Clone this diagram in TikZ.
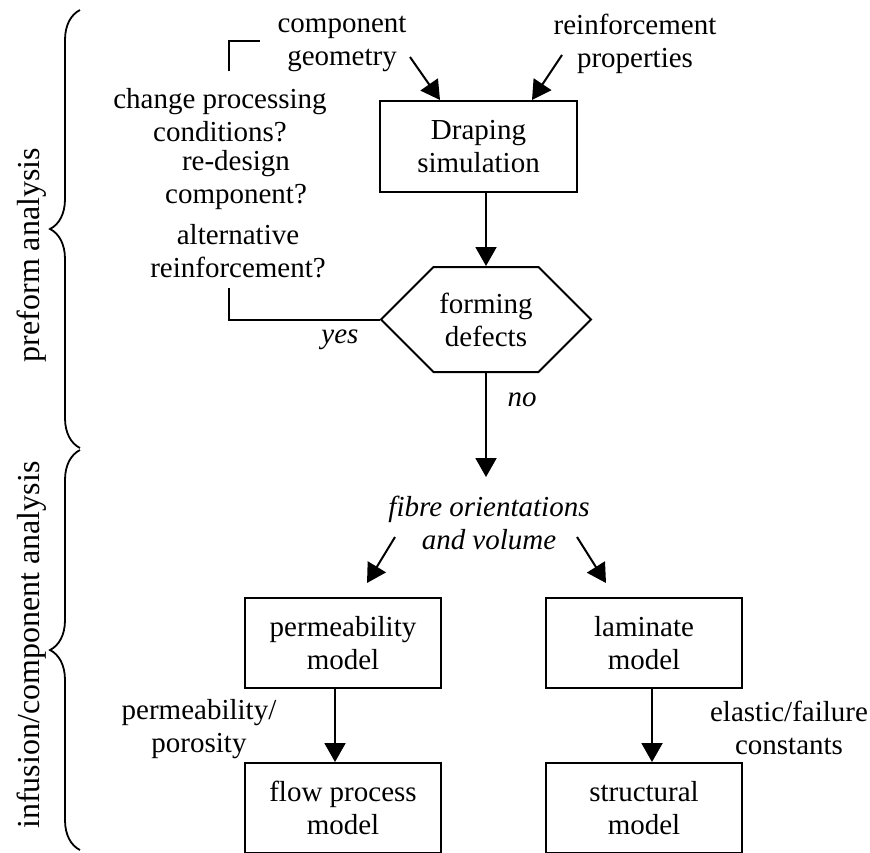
\documentclass[tikz,border=0pt]{standalone}
\usepackage{fontspec}
\setmainfont{Liberation Serif}
\usetikzlibrary{arrows.meta,shapes.symbols,decorations.pathreplacing}

\begin{document}
\begin{tikzpicture}[x=0.5pt,y=-0.5pt]
\tikzset{boite/.style={draw, line width=1pt, minimum width=98pt, minimum height=45pt, align=center, inner sep=0pt, font=\fontsize{14.5}{16.5}\selectfont},
  texte/.style={align=center, inner sep=0pt, font=\fontsize{14.5}{16.5}\selectfont},
  italique/.style={texte, font=\fontsize{14.5}{16.5}\selectfont\itshape},
  cote/.style={inner sep=0pt, rotate=90, font=\fontsize{16}{18}\selectfont},
  fleche/.style={line width=1pt, -{Triangle[length=9.5pt,width=10.5pt]}},
  trait/.style={line width=1pt},
  accolade/.style={line width=0.9pt, decorate, decoration={brace, amplitude=15pt}}}
\useasboundingbox (0,0) rectangle (870,852);
\clip (0,0) rectangle (870,852);
\node[boite, minimum width=98.5pt, minimum height=45.5pt] (drape) at (478.5,146.5) {Draping\\simulation};
\node[draw, line width=1pt, signal, signal to=west and east, signal pointer angle=90, minimum width=105pt, minimum height=52.5pt, align=center, inner sep=0pt, font=\fontsize{14.5}{16.5}\selectfont] (defects) at (486,319.5) {forming\\defects};
\node[boite] (perm) at (343,643) {permeability\\model};
\node[boite] (lamin) at (644,643) {laminate\\model};
\node[boite] (flow) at (343,808) {flow process\\model};
\node[boite] (struct) at (644,808) {structural\\model};
\node[texte] (geom) at (342,44) {component\\geometry};
\node[texte] (reinf) at (635,44) {reinforcement\\properties};
\node[texte] (change) at (220,115) {change processing\\conditions?};
\node[texte] (redesign) at (236,180) {re-design\\component?};
\node[texte] (altern) at (238,251) {alternative\\reinforcement?};
\node[italique] (oui) at (340,340) {yes};
\node[italique] (non) at (522,400) {no};
\node[italique] (fibre) at (489,523) {fibre orientations\\and volume};
\node[texte] (poros) at (199,729) {permeability/\\porosity};
\node[texte] (elast) at (789,728) {elastic/failure\\constants};
\node[cote] (preform) at (32,255) {preform analysis};
\node[cote] (infusion) at (32,645) {infusion/component analysis};
\coordinate (geomout) at (410,57);
\coordinate (reinfout) at (562,55);
\coordinate (fibretop) at (486,477);
\coordinate (fibreleft) at (395,537);
\coordinate (permin) at (367,583);
\coordinate (fibreright) at (577,537);
\coordinate (laminin) at (606,583);
\coordinate (retourbas) at (229,288);
\coordinate (retourhaut) at (229,71);
\coordinate (retourfin) at (260,41);
\draw[fleche] (geomout) -- ([xshift=-19.25pt]drape.north);
\draw[fleche] (reinfout) -- ([xshift=26.75pt]drape.north);
\draw[fleche] (drape.south -| defects.north) -- (defects.north);
\draw[fleche] (defects.south) -- (fibretop);
\draw[fleche] (fibreleft) -- (permin);
\draw[fleche] (fibreright) -- (laminin);
\draw[fleche] ([xshift=-4pt]perm.south) -- ([xshift=-4pt]flow.north);
\draw[fleche] ([xshift=4pt]lamin.south) -- ([xshift=4pt]struct.north);
\draw[trait] (defects.west) -| (retourbas);
\draw[trait] (retourhaut) |- (retourfin);
\draw[accolade] (80,448) -- (80,10);
\draw[accolade] (80,850) -- (80,450);
\end{tikzpicture}
\end{document}
